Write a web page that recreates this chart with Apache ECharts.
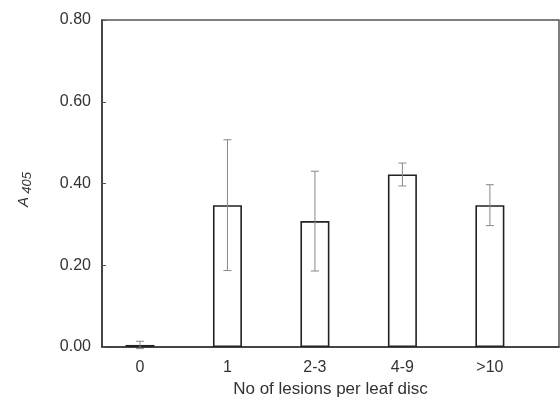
<!DOCTYPE html>
<html>
<head>
<meta charset="utf-8">
<script src="https://cdn.jsdelivr.net/npm/echarts@6/dist/echarts.min.js"></script>
<style>html,body{margin:0;padding:0;background:#fff}#c{width:560px;height:403px}</style>
</head>
<body>
<div id="c"></div>
<script>
var categories = ['0', '1', '2-3', '4-9', '>10'];
var means = [0.005, 0.347, 0.308, 0.422, 0.347];
var errors = [0.009, 0.16, 0.122, 0.028, 0.05];
var yTicks = [0, 0.2, 0.4, 0.6, 0.8];

var font = 'Liberation Sans, Arial, sans-serif';
var chart = echarts.init(document.getElementById('c'), null, {renderer: 'canvas'});
var barData = means.map(function (m, i) { return [i, m]; });
var errData = means.map(function (m, i) { return [i, m - errors[i], m + errors[i]]; });

chart.setOption({
  animation: false,
  backgroundColor: '#fff',
  grid: {left: 102, right: 1, top: 20, bottom: 52, show: true, borderColor: '#555', borderWidth: 1.5, backgroundColor: 'transparent'},
  xAxis: {
    type: 'value', min: -0.434, max: 4.79,
    splitLine: {show: false},
    axisLine: {show: true, onZero: false, lineStyle: {color: '#333', width: 1.5}},
    axisTick: {show: false},
    axisLabel: {customValues: [0, 1, 2, 3, 4], formatter: function (v) { return categories[Math.round(v)]; },
      color: '#333', fontSize: 16, fontFamily: font, margin: 13},
    name: 'No of lesions per leaf disc', nameLocation: 'middle', nameGap: 34,
    nameTextStyle: {color: '#333', fontSize: 17, fontFamily: font}
  },
  yAxis: {
    type: 'value', min: 0, max: 0.8, interval: 0.2,
    splitLine: {show: false},
    axisLine: {show: true, onZero: false, lineStyle: {color: '#333', width: 1.5}},
    axisTick: {show: true, inside: true, length: 4, lineStyle: {color: '#555'}},
    axisLabel: {customValues: yTicks, formatter: function (v) { return v.toFixed(2); }, color: '#333', fontSize: 16, fontFamily: font, margin: 11},
    name: '{a|A} {s|405}', nameLocation: 'middle', nameGap: 68, nameRotate: 90,
    nameTextStyle: {padding: [0, 12, 0, 0], rich: {
      a: {fontStyle: 'italic', fontSize: 15, fontFamily: font, color: '#333'},
      s: {fontStyle: 'italic', fontSize: 13, fontFamily: font, color: '#333', padding: [7, 0, 0, 0]}
    }}
  },
  series: [
    {
      type: 'bar', data: barData, barWidth: 29,
      itemStyle: {color: '#fff', borderColor: '#222', borderWidth: 1.6}
    },
    {
      type: 'custom', data: errData, z: 5,
      renderItem: function (params, api) {
        var x = api.value(0);
        var lo = api.coord([x, api.value(1)]);
        var hi = api.coord([x, api.value(2)]);
        var w = 4;
        var st = {stroke: '#888', lineWidth: 1};
        return {type: 'group', children: [
          {type: 'line', shape: {x1: hi[0], y1: hi[1], x2: lo[0], y2: lo[1]}, style: st},
          {type: 'line', shape: {x1: hi[0] - w, y1: hi[1], x2: hi[0] + w, y2: hi[1]}, style: st},
          {type: 'line', shape: {x1: lo[0] - w, y1: lo[1], x2: lo[0] + w, y2: lo[1]}, style: st}
        ]};
      }
    }
  ]
});
</script>
</body>
</html>
